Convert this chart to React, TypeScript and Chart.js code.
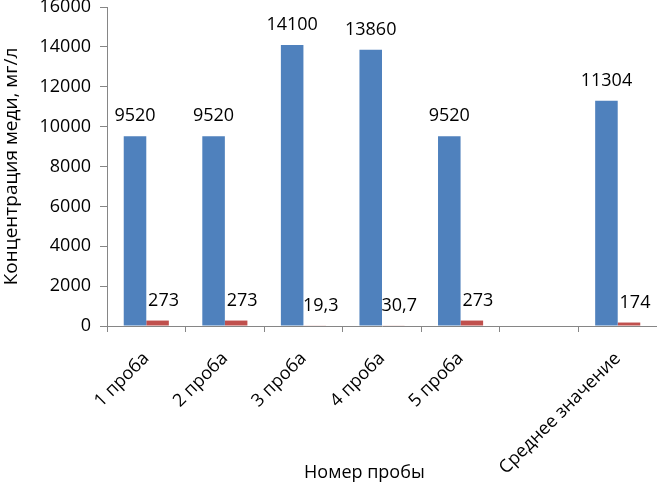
import React, { useEffect, useRef } from "react";
import { Chart, registerables } from "chart.js";

Chart.register(...registerables);

const categories = ["1 проба", "2 проба", "3 проба", "4 проба", "5 проба", "", "Среднее значение"];
const blueValues = [9520, 9520, 14100, 13860, 9520, null, 11304];
const redValues = [273, 273, 19.3, 30.7, 273, null, 174];
const yTicks = [0, 2000, 4000, 6000, 8000, 10000, 12000, 14000, 16000];
const yTitle = "Концентрация меди, мг/л";
const xTitle = "Номер пробы";

const FONT = "'Open Sans', 'DejaVu Sans', sans-serif";

const labelPlugin = {
  id: "valueLabels",
  afterDatasetsDraw(chart: any) {
    const ctx = chart.ctx;
    ctx.save();
    ctx.font = `18px ${FONT}`;
    ctx.fillStyle = "#000";
    ctx.textAlign = "center";
    ctx.textBaseline = "middle";
    chart.data.datasets.forEach((ds: any, di: number) => {
      const meta = chart.getDatasetMeta(di);
      meta.data.forEach((bar: any, i: number) => {
        const v = ds.data[i];
        if (v === null || v === undefined) return;
        const txt = String(v).replace(".", ",");
        const dx = di === 1 ? 6 : 0;
        ctx.fillText(txt, bar.x + dx, bar.y - 20);
      });
    });
    ctx.restore();
  },
  afterDraw(chart: any) {
    const ctx = chart.ctx;
    const xs = chart.scales.x;
    ctx.save();
    ctx.font = `18px ${FONT}`;
    ctx.fillStyle = "#000";
    ctx.textAlign = "center";
    ctx.textBaseline = "alphabetic";
    const cx = xs.left + (xs.right - xs.left) * 0.468;
    ctx.fillText(xTitle, cx, chart.height - 6);
    ctx.restore();
  },
};

export default function App() {
  const ref = useRef<HTMLCanvasElement | null>(null);
  useEffect(() => {
    if (!ref.current) return;
    const chart = new Chart(ref.current, {
      type: "bar",
      data: {
        labels: categories,
        datasets: [
          { data: blueValues, backgroundColor: "#4F81BD", categoryPercentage: 0.574, barPercentage: 1 },
          { data: redValues, backgroundColor: "#C0504D", categoryPercentage: 0.574, barPercentage: 1 },
        ],
      },
      options: {
        animation: false,
        responsive: true,
        maintainAspectRatio: false,
        layout: { padding: { top: 7, right: 0, left: 0, bottom: 0 } },
        plugins: { legend: { display: false }, tooltip: { enabled: false } },
        scales: {
          x: {
            grid: { display: true, drawOnChartArea: false, offset: true, tickLength: 6, color: "#868686" },
            border: { display: true, color: "#868686" },
            ticks: {
              font: { family: FONT, size: 18 },
              color: "#000",
              minRotation: 45,
              maxRotation: 45,
              autoSkip: false,
              padding: 16,
            },
            afterFit(scale: any) {
              scale.height = 158;
              scale.paddingLeft = 0;
              scale.paddingRight = 0;
            },
          },
          y: {
            min: 0,
            max: 16000,
            afterBuildTicks(scale: any) {
              scale.ticks = yTicks.map((v) => ({ value: v }));
            },
            grid: { display: true, drawOnChartArea: false, tickLength: 7, color: "#868686" },
            border: { display: true, color: "#868686" },
            ticks: {
              font: { family: FONT, size: 18 },
              color: "#000",
              padding: 9,
              callback: (v: any) => String(v),
            },
            title: { display: true, text: yTitle, font: { family: FONT, size: 19 }, color: "#000", padding: { top: 0, bottom: 4 } },
            afterFit(scale: any) {
              scale.width = 107;
              scale.paddingTop = 0;
              scale.paddingBottom = 0;
            },
          },
        },
      },
      plugins: [labelPlugin],
    });
    return () => chart.destroy();
  }, []);
  return (
    <div style={{ position: "fixed", left: 0, top: 0, width: 657, height: 484, background: "#fff" }}>
      <canvas ref={ref} />
    </div>
  );
}
